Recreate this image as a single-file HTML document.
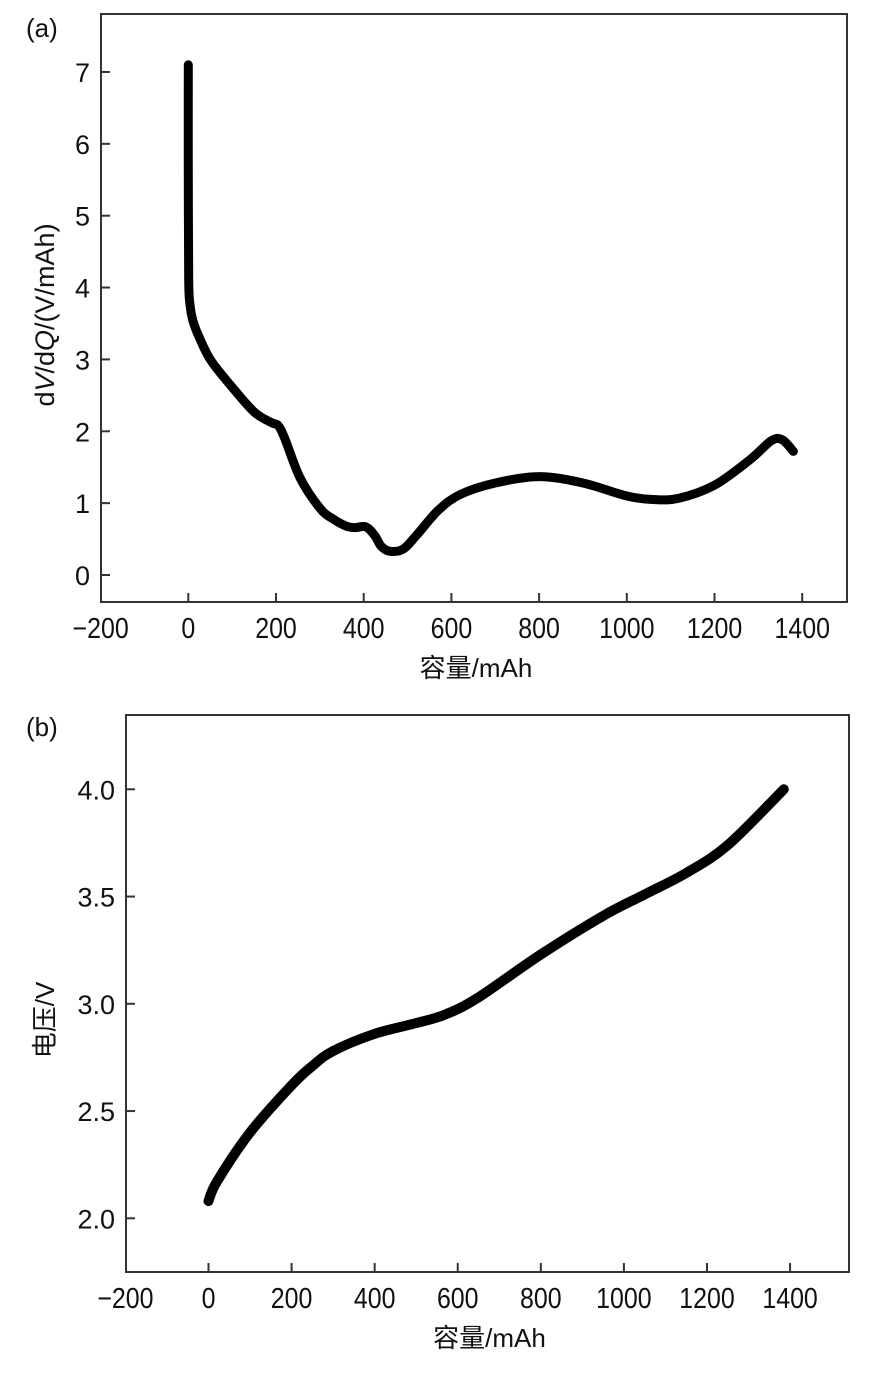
<!DOCTYPE html>
<html><head><meta charset="utf-8"><style>
body{margin:0;background:#fff}
svg text{font-family:"Liberation Sans","Noto Sans CJK SC",sans-serif;fill:#111}
</style></head><body>
<svg id="s" width="886" height="1371" xmlns="http://www.w3.org/2000/svg">
<text x="26" y="37" font-size="26">(a)</text>
<text x="26" y="736" font-size="26">(b)</text>
</svg>
<script>
const ns="http://www.w3.org/2000/svg";
const svg=document.getElementById('s');
// Chart A data
const aXTicks=[-200,0,200,400,600,800,1000,1200,1400];
const aYTicks=[0,1,2,3,4,5,6,7];
const aQ=[0,0,1,4,10,22,50,95,150,190,205,220,255,300,330,360,380,405,425,440,460,490,520,570,620,700,800,900,1000,1060,1120,1200,1280,1330,1355,1380];
const aV=[7.1,5.5,4.1,3.75,3.55,3.35,3.0,2.65,2.27,2.12,2.08,1.9,1.35,0.93,0.78,0.68,0.66,0.67,0.55,0.4,0.33,0.36,0.55,0.9,1.12,1.28,1.37,1.28,1.1,1.05,1.07,1.25,1.6,1.87,1.88,1.72];
// Chart B data
const bXTicks=[-200,0,200,400,600,800,1000,1200,1400];
const bYTicks=[2.0,2.5,3.0,3.5,4.0];
const bQ=[0,20,100,200,250,300,400,500,570,650,800,950,1050,1150,1250,1385];
const bV=[2.08,2.17,2.4,2.62,2.71,2.78,2.86,2.91,2.95,3.03,3.23,3.41,3.51,3.61,3.74,4.0];

function el(t,a,txt){const e=document.createElementNS(ns,t);for(const k in a)e.setAttribute(k,a[k]);if(txt!==undefined)e.textContent=txt;svg.appendChild(e);return e;}

function smooth(pts){
  let d='M'+pts[0][0].toFixed(1)+','+pts[0][1].toFixed(1);
  for(let i=0;i<pts.length-1;i++){
    const p0=pts[Math.max(0,i-1)],p1=pts[i],p2=pts[i+1],p3=pts[Math.min(pts.length-1,i+2)];
    const c1=[p1[0]+(p2[0]-p0[0])/6,p1[1]+(p2[1]-p0[1])/6];
    const c2=[p2[0]-(p3[0]-p1[0])/6,p2[1]-(p3[1]-p1[1])/6];
    d+='C'+c1.map(n=>n.toFixed(1)).join(',')+' '+c2.map(n=>n.toFixed(1)).join(',')+' '+p2.map(n=>n.toFixed(1)).join(',');
  }
  return d;
}

function chart(o){
  const X=v=>o.x0+v*o.sx, Y=v=>o.y0-(v-o.yb)*o.sy;
  const f=el('rect',{x:o.L,y:o.T,width:o.R-o.L,height:o.B-o.T,fill:'none',stroke:'#333','stroke-width':2});
  
  
  o.xt.forEach(v=>{
    if(v!==o.xt[0]){const t=el('line',{x1:X(v),x2:X(v),y1:o.B,y2:o.B-9,stroke:'#333','stroke-width':2});
    
    }
    const l=el('text',{transform:'translate('+X(v)+','+(o.B+36)+') scale(0.86,1)','font-size':29,'text-anchor':'middle'},v<0?'\u2212'+(-v):String(v));
    
    
  });
  o.yt.forEach(v=>{
    const t=el('line',{x1:o.L,x2:o.L+9,y1:Y(v),y2:Y(v),stroke:'#333','stroke-width':2});
    
    
    const l=el('text',{x:o.L-11,y:Y(v)+10,'font-size':27,'text-anchor':'end'},o.fmt(v));
    
    
  });
  const pts=o.q.map((q,i)=>[X(q),Y(o.v[i])]);
  const p=el('path',{d:smooth(pts),fill:'none',stroke:'#000','stroke-width':o.w,'stroke-linecap':'round','stroke-linejoin':'round'});
  
  
  const xt=el('text',{x:(o.L+o.R)/2+2,y:o.B+75,'font-size':26,'text-anchor':'middle'},'容量/mAh');
  
  
}
chart({p:'a',L:101,R:847,T:14,B:602,x0:188.3,sx:0.4385,y0:575,yb:0,sy:71.86,xt:aXTicks,yt:aYTicks,q:aQ,v:aV,w:9,fmt:v=>String(v)});
chart({p:'b',L:126,R:849,T:715,B:1272,x0:208.5,sx:0.4154,y0:1218.3,yb:2,sy:214.5,xt:bXTicks,yt:bYTicks,q:bQ,v:bV,w:10,fmt:v=>v.toFixed(1)});

const ya=el('text',{transform:'translate(54,315) rotate(-90)','font-size':27,'text-anchor':'middle'});


ya.innerHTML='d<tspan font-style="italic">V</tspan>/d<tspan font-style="italic">Q</tspan>/(V/mAh)';
const yb=el('text',{transform:'translate(54,1020) rotate(-90)','font-size':26,'text-anchor':'middle'},'电压/V');


</script>
</body></html>
